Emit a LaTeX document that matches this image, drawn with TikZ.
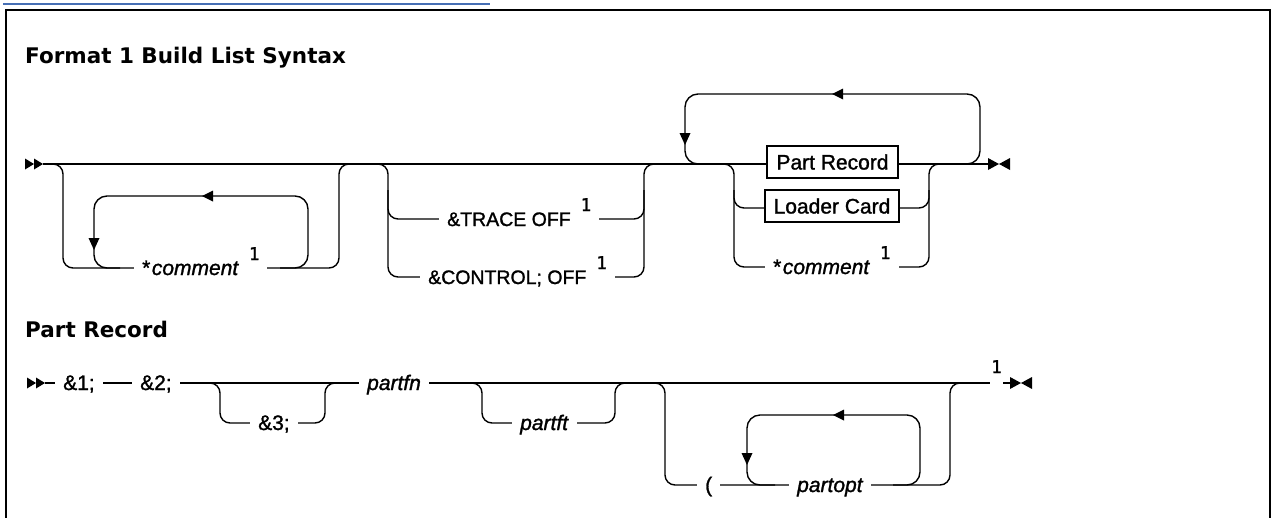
\documentclass[tikz,border=0pt]{standalone}
\usepackage{fontspec}
\setmainfont{Liberation Sans}[FakeBold=1.3]
\newfontfamily\headfont{DejaVu Sans}
\newfontfamily\supfont{DejaVu Sans Mono}[FakeBold=1.5]
\definecolor{linkblue}{RGB}{70,110,180}
\newcommand{\snote}{\hspace{10pt}\raisebox{15pt}{\supfont\fontsize{17.5}{20}\selectfont 1}}
\tikzset{
  rail/.style={line width=1.4pt, rounded corners=10pt},
  loopline/.style={line width=1.4pt, rounded corners=13pt},
  lbl/.style={fill=white, inner xsep=8pt, inner ysep=1pt, anchor=base west, font=\fontsize{21}{25}\selectfont},
  caplbl/.style={lbl, font=\fontsize{19.5}{24}\selectfont},
  termbox/.style={draw, line width=1.2pt, fill=white, minimum height=32pt, inner xsep=0pt, font=\fontsize{21}{25}\selectfont},
  heading/.style={anchor=base west, inner sep=0pt, font=\headfont\bfseries\fontsize{21.5}{26}\selectfont},
  frameline/.style={line width=2.5pt},
  tip/.style={fill=black},
}
\begin{document}
\begin{tikzpicture}[x=1pt,y=-1pt]
\useasboundingbox (0,0) rectangle (1273,517);
% page fragments
\draw[linkblue, line width=1.2pt] (3,4) -- (490,4);
\draw[frameline] (6,530) -- (6,10) -- (1270,10) -- (1270,530);

% ================= Diagram 1 =================
\node[heading] (title1) at (25,63) {Format 1 Build List Syntax};

% start and end symbols
\coordinate (s1) at (43,164);
\coordinate (e1) at (988,164);
\fill[tip] (25,158.5) -- (34,164) -- (25,169.5) -- cycle;
\fill[tip] (34,158.5) -- (43,164) -- (34,169.5) -- cycle;
\fill[tip] (988,158) -- (999,164) -- (988,170) -- cycle;
\fill[tip] (1010,158) -- (999,164) -- (1010,170) -- cycle;

% main rail
\draw[rail] (s1) -- (e1);

% optional repeated comment
\draw[rail] (50,164) -- (63,164) -- (63,268) -- (339,268) -- (339,164) -- (352,164);
\draw[loopline] (120,268) -- (94,268) -- (94,196) -- (308,196) -- (308,268) -- (280,268);
\fill[tip] (202,196) -- (213,190.5) -- (213,201.5) -- cycle;
\fill[tip] (94,250) -- (88.5,238) -- (99.5,238) -- cycle;

% optional TRACE / CONTROL
\draw[rail] (375,164) -- (388,164) -- (388,277) -- (644,277) -- (644,164) -- (657,164);
\draw[rail] (388,190) -- (388,219) -- (644,219) -- (644,190);

% repeat loop over choice
\draw[loopline] (712,164) -- (685,164) -- (685,94) -- (980,94) -- (980,164) -- (953,164);
\fill[tip] (832,94) -- (843,88.5) -- (843,99.5) -- cycle;
\fill[tip] (685,145) -- (679.5,133) -- (690.5,133) -- cycle;

% choice
\draw[rail] (721,164) -- (734,164) -- (734,267) -- (929,267) -- (929,164) -- (942,164);
\draw[rail] (734,190) -- (734,208) -- (929,208) -- (929,190);

% labels
\node[lbl] (cmtA) at (134,275) {*\hspace{1.5pt}\textit{comment}\snote};
\node[caplbl] (trace) at (439,226) {\&TRACE OFF\snote};
\node[caplbl] (control) at (420,284) {\&CONTROL; OFF\snote};
\node[termbox, minimum width=131pt] (partrec) at (832.5,162) {Part Record};
\node[termbox, minimum width=134pt] (loader) at (832,206) {Loader Card};
\node[lbl] (cmtB) at (765,274) {*\hspace{1.5pt}\textit{comment}\snote};

% ================= Diagram 2 =================
\node[heading] (title2) at (25,337) {Part Record};

\coordinate (s2) at (45,383);
\coordinate (e2) at (1010,383);
\fill[tip] (27,377.5) -- (36,383) -- (27,388.5) -- cycle;
\fill[tip] (36,377.5) -- (45,383) -- (36,388.5) -- cycle;
\fill[tip] (1010,377) -- (1021,383) -- (1010,389) -- cycle;
\fill[tip] (1032,377) -- (1021,383) -- (1032,389) -- cycle;

\draw[rail] (s2) -- (e2);

% optional &3;
\draw[rail] (207,383) -- (220,383) -- (220,423) -- (325,423) -- (325,383) -- (338,383);
% optional partft
\draw[rail] (469,383) -- (482,383) -- (482,423) -- (615,423) -- (615,383) -- (628,383);
% optional ( partopt ...
\draw[rail] (652,383) -- (665,383) -- (665,485) -- (950,485) -- (950,383) -- (963,383);
\draw[loopline] (775,485) -- (747,485) -- (747,415) -- (920,415) -- (920,485) -- (893,485);
\fill[tip] (833,415) -- (844,409.5) -- (844,420.5) -- cycle;
\fill[tip] (747,465) -- (741.5,453) -- (752.5,453) -- cycle;

\node[lbl] (amp1) at (55,390) {\&1;};
\node[lbl] (amp2) at (132,390) {\&2;};
\node[lbl] (amp3) at (250,430) {\&3;};
\node[lbl] (partfn) at (359,390) {\textit{partfn}\hspace{5pt}};
\node[lbl] (partft) at (512,430) {\textit{partft}\hspace{4pt}};
\node[lbl] (paren) at (697,492) {(};
\node[lbl] (partopt) at (789,492) {\textit{partopt}\hspace{3pt}};
\node[lbl, inner xsep=1pt] (note2) at (990,386) {\raisebox{13pt}{\supfont\fontsize{17.5}{20}\selectfont 1}};
\end{tikzpicture}
\end{document}
